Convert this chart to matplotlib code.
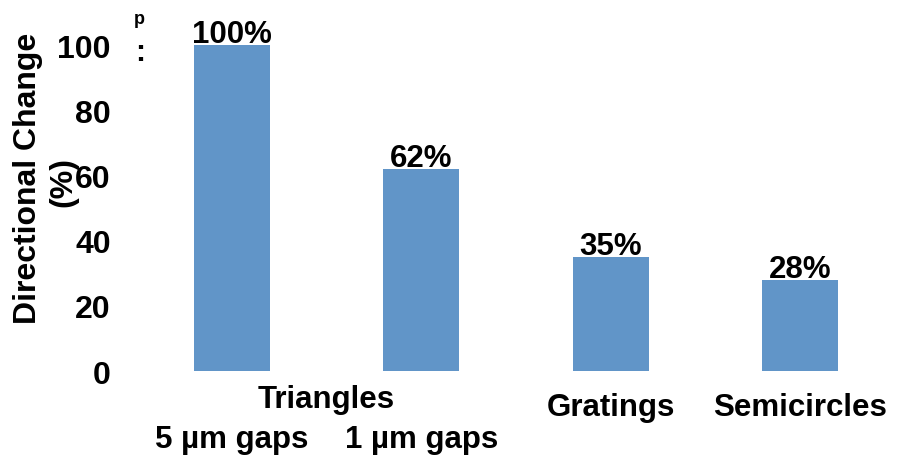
import matplotlib
matplotlib.use('Agg')
import matplotlib.pyplot as plt

# data
categories = ['Gratings', 'Semicircles']
values = [100, 62, 35, 28]
value_labels = ['100%', '62%', '35%', '28%']
gap_labels = ['5 \u00b5m gaps', '1 \u00b5m gaps']
yticks = [0, 20, 40, 60, 80, 100]

plt.rcParams['font.family'] = ['Liberation Sans', 'DejaVu Sans']
plt.rcParams['font.weight'] = 'bold'

fig = plt.figure(figsize=(8.99, 4.60), dpi=100)
ax = fig.add_axes([0.142, 0.191, 0.8535, 0.779])

x = list(range(len(values)))
bars = ax.bar(x, values, width=0.4, color='#6195C8')

# value labels on top of bars
for xi, v, lab in zip(x, values, value_labels):
    ax.text(xi, v - 1.2, lab, ha='center', va='bottom', fontsize=22.5, fontweight='bold')

ax.set_ylim(0, 110)
ax.set_xlim(-0.55, 3.5)
ax.set_yticks(yticks)
ax.set_yticklabels([str(t) for t in yticks], fontsize=23, fontweight='bold')
ax.tick_params(axis='y', length=0, pad=12)
ax.set_xticks([])
for s in ax.spines.values():
    s.set_visible(False)

# category labels
fs = 22.5
ax.text(0.5, -8.5, 'Triangles', ha='center', va='center', fontsize=fs, fontweight='bold')
ax.text(0, -20.8, gap_labels[0], ha='center', va='center', fontsize=fs, fontweight='bold')
ax.text(1, -20.8, gap_labels[1], ha='center', va='center', fontsize=fs, fontweight='bold')
ax.text(2, -11, categories[0], ha='center', va='center', fontsize=fs, fontweight='bold')
ax.text(3, -11, categories[1], ha='center', va='center', fontsize=fs, fontweight='bold')

# y axis title
fig.text(0.031, 0.613, 'Directional Change', rotation=90, ha='center', va='center',
         fontsize=23, fontweight='bold')
fig.text(0.070, 0.605, '(%)', rotation=90, ha='center', va='center',
         fontsize=23, fontweight='bold')

# stray marks near top left
fig.text(0.1555, 0.958, 'p', ha='center', va='center', fontsize=13, fontweight='heavy')
fig.text(0.1555, 0.885, ':', ha='center', va='center', fontsize=22, fontweight='bold')

fig.savefig('out.png', dpi=100)
